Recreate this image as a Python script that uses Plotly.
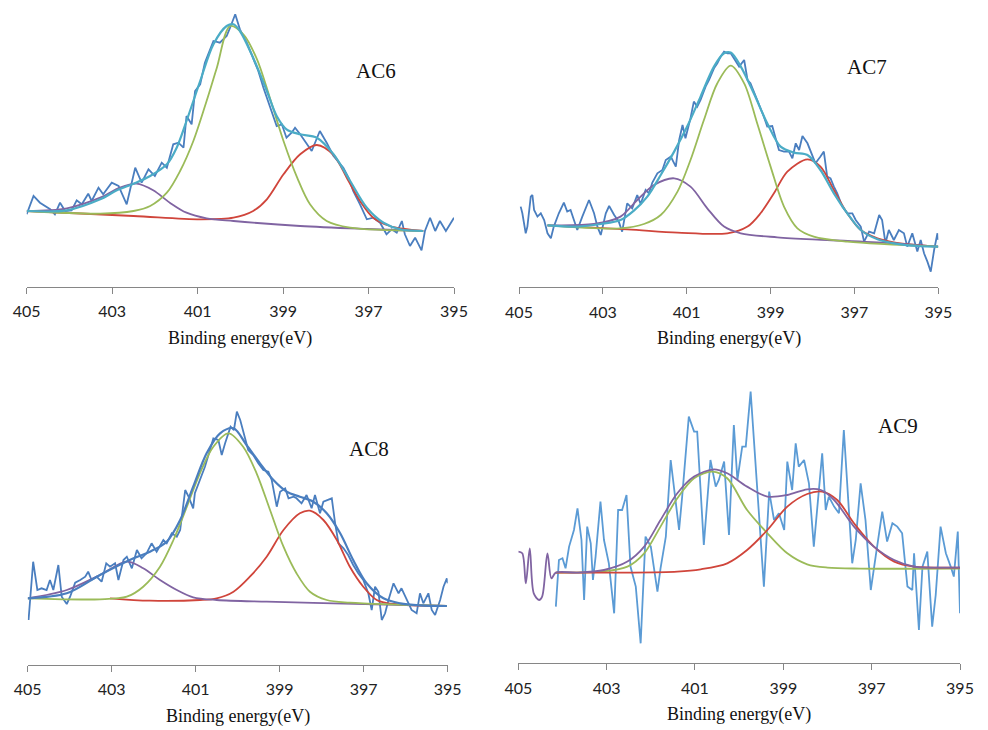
import plotly.graph_objects as go

# ---------------- AC6 ----------------
ac6_raw_ev = [405.00, 404.84, 404.69, 404.45, 404.34, 404.22, 404.10, 403.95, 403.83, 403.71,
              403.56, 403.48, 403.32, 403.21, 403.01, 402.85, 402.66, 402.46, 402.31, 402.15,
              402.00, 401.84, 401.72, 401.57, 401.45, 401.33, 401.26, 401.14, 401.06, 400.94,
              400.83, 400.63, 400.48, 400.32, 400.24, 400.12, 400.01, 399.85, 399.66, 399.58,
              399.46, 399.38, 399.27, 399.15, 399.03, 398.92, 398.80, 398.72, 398.60, 398.49,
              398.33, 398.14, 397.98, 397.82, 397.59, 397.47, 397.36, 397.20, 397.04, 396.89,
              396.73, 396.58, 396.46, 396.34, 396.22, 396.15, 396.03, 395.91, 395.76, 395.68,
              395.56, 395.44, 395.33, 395.19, 395.09, 395.00]
ac6_raw = [72.7, 91.0, 84.3, 77.7, 72.7, 84.3, 76.0, 76.7, 86.7, 82.7,
           93.3, 86.0, 99.3, 92.7, 104.3, 101.0, 82.7, 119.3, 104.3, 117.7,
           111.0, 124.3, 119.3, 142.7, 144.3, 139.3, 171.0, 162.7, 196.0, 202.7,
           224.3, 246.0, 244.3, 251.0, 259.3, 272.7, 257.7, 244.3, 224.3, 216.0,
           199.3, 189.3, 176.0, 161.0, 162.7, 149.3, 154.3, 159.3, 152.7, 146.0,
           136.0, 156.0, 144.3, 131.0, 119.3, 109.3, 96.0, 82.7, 67.7, 69.3,
           64.3, 52.7, 57.7, 54.3, 66.0, 52.7, 41.0, 49.3, 36.7, 56.0,
           69.3, 56.0, 66.0, 56.0, 62.7, 69.3]
ac6_fit_ev = [405.00, 404.06, 403.28, 402.89, 402.50, 402.11, 401.72, 401.49, 401.26, 400.94,
              400.63, 400.32, 400.16, 400.01, 399.70, 399.38, 399.15, 398.92, 398.60, 398.21,
              397.82, 397.43, 397.04, 396.65, 396.26, 395.72]
ac6_fit = [76.0, 76.7, 87.7, 96.7, 103.3, 111.0, 122.7, 139.3, 166.0, 206.0,
           242.7, 261.0, 262.7, 256.0, 229.3, 196.0, 171.0, 157.7, 152.7, 149.3,
           132.7, 106.0, 79.3, 64.3, 57.7, 56.0]
ac6_g_ev = [405.00, 403.28, 402.50, 402.11, 401.72, 401.41, 401.10, 400.79, 400.55, 400.24,
            399.93, 399.61, 399.31, 398.99, 398.67, 398.37, 397.98, 397.43, 395.72]
ac6_g = [76.0, 73.3, 76.0, 81.0, 94.3, 116.0, 146.0, 186.0, 219.3, 261.0,
         252.7, 227.7, 189.3, 146.0, 109.3, 82.7, 66.0, 59.3, 56.0]
ac6_r_ev = [405.00, 402.50, 400.94, 400.16, 399.70, 399.38, 398.99, 398.60, 398.21, 397.82,
            397.51, 397.20, 396.89, 396.50, 395.72]
ac6_r = [76.0, 71.0, 67.7, 69.3, 76.0, 87.7, 112.7, 132.7, 142.0, 132.0,
         109.3, 86.0, 69.3, 61.0, 56.0]
ac6_p_ev = [405.00, 404.06, 403.28, 402.82, 402.43, 402.04, 401.65, 401.26, 400.79, 400.16,
            398.60, 397.04, 395.72]
ac6_p = [76.0, 78.7, 89.3, 99.3, 103.3, 96.7, 84.3, 74.3, 68.7, 66.0,
         61.0, 58.0, 56.0]

# ---------------- AC7 ----------------
ac7_raw_ev = [404.96, 404.92, 404.84, 404.80, 404.72, 404.68, 404.64, 404.56, 404.48, 404.40,
              404.32, 404.24, 404.17, 404.05, 403.93, 403.85, 403.77, 403.69, 403.61, 403.49,
              403.33, 403.21, 403.13, 403.05, 402.93, 402.85, 402.73, 402.62, 402.54, 402.42,
              402.30, 402.18, 402.10, 401.98, 401.90, 401.82, 401.70, 401.58, 401.50, 401.38,
              401.26, 401.18, 401.10, 401.03, 400.91, 400.83, 400.75, 400.67, 400.55, 400.47,
              400.35, 400.27, 400.19, 400.11, 400.03, 399.95, 399.87, 399.75, 399.63, 399.55,
              399.48, 399.40, 399.28, 399.16, 399.08, 398.96, 398.88, 398.80, 398.68, 398.56,
              398.48, 398.40, 398.32, 398.24, 398.12, 398.00, 397.93, 397.81, 397.73, 397.65,
              397.57, 397.49, 397.41, 397.29, 397.17, 397.05, 396.97, 396.85, 396.77, 396.65,
              396.53, 396.41, 396.34, 396.26, 396.18, 396.06, 395.94, 395.82, 395.74, 395.62,
              395.50, 395.42, 395.34, 395.26, 395.18, 395.10, 395.02, 395.00]
ac7_raw = [80.7, 74.0, 54.0, 60.7, 90.7, 92.3, 77.3, 70.7, 74.0, 67.3,
           54.0, 49.0, 60.7, 74.0, 84.7, 75.7, 77.3, 67.3, 57.3, 70.7,
           87.3, 74.0, 60.7, 52.3, 74.0, 81.3, 72.3, 65.7, 55.7, 84.0,
           79.0, 92.3, 83.3, 97.3, 94.0, 104.7, 114.0, 117.3, 127.3, 130.7,
           120.7, 147.3, 162.3, 149.0, 169.0, 185.7, 180.7, 187.3, 200.7, 207.3,
           219.0, 224.0, 230.7, 235.7, 234.0, 234.0, 229.0, 220.7, 227.3, 207.3,
           204.0, 195.7, 184.0, 170.7, 160.7, 161.3, 149.0, 137.3, 135.7, 135.7,
           129.0, 144.0, 137.3, 151.3, 144.0, 130.7, 124.0, 130.7, 135.7, 110.7,
           109.0, 100.7, 94.0, 80.7, 74.0, 74.0, 67.3, 60.7, 45.7, 55.7,
           54.0, 72.3, 67.3, 44.0, 57.3, 47.3, 57.3, 54.0, 40.7, 54.0,
           35.7, 47.3, 34.0, 25.7, 15.7, 37.3, 54.0, 47.3]
ac7_fit_ev = [404.32, 403.61, 403.05, 402.58, 402.26, 401.94, 401.62, 401.30, 400.99, 400.67,
              400.35, 400.11, 399.95, 399.71, 399.40, 399.08, 398.76, 398.44, 398.12, 397.81,
              397.49, 397.17, 396.85, 396.45, 396.06, 395.50, 395.00]
ac7_fit = [62.0, 60.7, 63.3, 67.3, 76.7, 90.7, 112.3, 135.7, 160.7, 190.7,
           220.7, 234.0, 234.7, 220.7, 194.0, 164.0, 140.7, 134.7, 132.3, 117.3,
           94.0, 74.0, 57.3, 48.0, 44.0, 41.3, 40.7]
ac7_g_ev = [404.32, 402.58, 402.02, 401.62, 401.22, 400.91, 400.59, 400.27, 399.95, 399.63,
            399.32, 399.00, 398.68, 398.36, 397.97, 397.17, 395.00]
ac7_g = [62.0, 59.0, 63.3, 72.3, 95.7, 127.3, 167.3, 204.0, 221.7, 204.0,
         164.0, 120.7, 80.7, 59.0, 50.7, 45.7, 40.7]
ac7_r_ev = [404.32, 402.42, 401.22, 400.03, 399.55, 399.24, 398.92, 398.60, 398.12, 397.81,
            397.49, 397.17, 396.85, 396.45, 396.06, 395.00]
ac7_r = [62.0, 58.0, 54.7, 54.0, 60.7, 74.0, 94.0, 115.7, 128.0, 120.7,
         97.3, 74.0, 57.3, 49.0, 45.0, 40.7]
ac7_p_ev = [404.32, 403.21, 402.58, 402.18, 401.78, 401.30, 400.91, 400.51, 400.11, 399.71,
            398.84, 397.65, 396.06, 395.00]
ac7_p = [62.0, 63.3, 70.7, 87.3, 102.3, 109.0, 100.7, 79.0, 60.7, 54.0,
         50.0, 47.3, 44.0, 40.7]

# ---------------- AC8 ----------------
ac8_raw_ev = [404.98, 404.87, 404.77, 404.67, 404.55, 404.47, 404.39, 404.27, 404.19, 404.07,
              403.99, 403.87, 403.75, 403.63, 403.56, 403.48, 403.36, 403.24, 403.13, 403.04,
              402.92, 402.84, 402.72, 402.64, 402.52, 402.40, 402.29, 402.17, 402.05, 401.93,
              401.77, 401.69, 401.57, 401.45, 401.37, 401.25, 401.17, 401.06, 401.02, 400.90,
              400.78, 400.66, 400.58, 400.46, 400.38, 400.30, 400.17, 400.09, 400.02, 399.94,
              399.83, 399.75, 399.63, 399.51, 399.39, 399.27, 399.19, 399.07, 398.99, 398.87,
              398.79, 398.67, 398.60, 398.48, 398.36, 398.24, 398.16, 398.04, 397.96, 397.84,
              397.76, 397.68, 397.60, 397.48, 397.37, 397.25, 397.13, 397.01, 396.89, 396.81,
              396.73, 396.65, 396.57, 396.49, 396.41, 396.29, 396.17, 396.10, 395.98, 395.86,
              395.74, 395.66, 395.58, 395.46, 395.38, 395.30, 395.18, 395.10, 395.02, 395.00]
ac8_raw = [45.0, 103.3, 75.0, 76.7, 75.0, 85.0, 75.0, 100.0, 68.3, 61.0,
           68.3, 82.3, 85.0, 88.3, 93.3, 85.0, 88.3, 83.3, 101.7, 98.3,
           101.7, 85.0, 105.0, 108.3, 96.7, 115.0, 106.7, 111.7, 121.7, 113.3,
           125.0, 121.7, 131.7, 128.3, 135.0, 175.0, 168.3, 156.7, 171.7, 185.0,
           198.3, 215.0, 226.7, 225.0, 210.0, 221.7, 238.3, 235.0, 253.3, 245.0,
           228.3, 215.0, 210.0, 201.7, 195.0, 193.3, 185.0, 158.3, 173.3, 176.7,
           166.7, 168.3, 166.7, 161.7, 170.0, 156.7, 170.0, 151.7, 163.3, 165.0,
           166.7, 141.7, 121.7, 116.7, 110.0, 100.0, 91.7, 85.0, 71.7, 55.0,
           78.3, 73.3, 45.0, 51.7, 65.0, 81.7, 71.7, 76.7, 65.0, 55.0,
           51.7, 71.7, 61.7, 71.7, 55.0, 50.0, 65.0, 78.3, 86.7, 81.7]
ac8_fit_ev = [405.00, 404.07, 403.28, 402.48, 402.09, 401.69, 401.37, 401.06, 400.74, 400.42,
              400.10, 399.79, 399.47, 399.15, 398.83, 398.52, 398.20, 397.88, 397.56, 397.25,
              396.93, 396.53, 396.13, 395.66, 395.02]
ac8_fit = [66.7, 71.7, 90.0, 106.7, 113.3, 123.3, 145.0, 178.3, 211.7, 231.7,
           236.7, 220.0, 201.7, 185.0, 173.3, 168.3, 163.3, 151.7, 131.7, 105.0,
           81.7, 66.7, 61.7, 59.7, 59.0]
ac8_g_ev = [405.00, 403.28, 402.64, 402.25, 401.85, 401.53, 401.21, 400.90, 400.58, 400.22,
            399.87, 399.55, 399.23, 398.91, 398.60, 398.28, 397.88, 397.33, 395.02]
ac8_g = [66.7, 65.7, 68.3, 78.3, 98.3, 125.0, 158.3, 191.7, 218.3, 231.7,
         218.3, 191.7, 155.0, 118.3, 91.7, 73.3, 65.0, 62.3, 59.0]
ac8_r_ev = [403.04, 402.09, 400.90, 400.50, 400.10, 399.71, 399.31, 398.91, 398.52, 398.28,
            397.96, 397.64, 397.33, 397.01, 396.69, 396.29, 395.02]
ac8_r = [66.7, 64.3, 65.0, 66.7, 73.3, 88.3, 108.3, 135.0, 151.7, 154.3,
         145.0, 125.0, 98.3, 78.3, 65.0, 61.0, 59.0]
ac8_p_ev = [405.00, 404.07, 403.28, 402.64, 402.25, 401.85, 401.45, 401.06, 400.50, 399.31,
            397.72, 395.02]
ac8_p = [66.7, 75.0, 90.0, 103.3, 96.7, 85.0, 75.0, 67.7, 65.0, 63.3,
         61.7, 59.0]

# ---------------- AC9 ----------------
ac9_raw_ev = [404.15, 404.08, 404.00, 403.93, 403.85, 403.74, 403.66, 403.57, 403.51, 403.44,
              403.36, 403.31, 403.25, 403.14, 403.06, 402.95, 402.83, 402.74, 402.65, 402.55,
              402.46, 402.34, 402.23, 402.12, 402.00, 401.85, 401.78, 401.66, 401.55, 401.48,
              401.36, 401.29, 401.14, 401.02, 400.95, 400.80, 400.65, 400.53, 400.46, 400.34,
              400.23, 400.12, 400.04, 399.93, 399.85, 399.74, 399.66, 399.55, 399.44, 399.32,
              399.21, 399.10, 398.98, 398.91, 398.80, 398.72, 398.65, 398.53, 398.42, 398.31,
              398.19, 398.12, 398.04, 397.97, 397.85, 397.74, 397.63, 397.55, 397.44, 397.36,
              397.25, 397.14, 397.02, 396.91, 396.76, 396.65, 396.53, 396.42, 396.31, 396.19,
              396.08, 396.04, 395.93, 395.85, 395.74, 395.63, 395.55, 395.44, 395.32, 395.21,
              395.14, 395.05, 395.00]
ac9_raw = [56.7, 103.3, 105.0, 95.0, 116.7, 133.3, 155.0, 123.3, 63.3, 136.7,
           120.0, 83.3, 106.7, 161.7, 123.3, 100.0, 50.0, 153.3, 153.3, 168.3,
           96.7, 76.7, 20.0, 126.7, 116.7, 71.7, 95.0, 126.7, 203.3, 176.7,
           133.3, 166.7, 246.7, 231.7, 231.7, 118.3, 203.3, 176.7, 183.3, 201.7,
           128.3, 238.3, 183.3, 216.7, 216.7, 271.7, 216.7, 150.0, 76.7, 171.7,
           143.3, 150.0, 133.3, 201.7, 173.3, 220.0, 196.7, 203.3, 180.0, 116.7,
           173.3, 210.0, 153.3, 166.7, 156.7, 150.0, 233.3, 173.3, 100.0, 123.3,
           180.0, 143.3, 73.3, 106.7, 151.7, 121.7, 140.0, 136.7, 130.0, 76.7,
           73.3, 110.0, 33.3, 96.7, 111.7, 36.7, 68.3, 136.7, 110.0, 96.7,
           86.7, 131.7, 50.0]
ac9_p_ev = [405.00, 404.91, 404.83, 404.74, 404.65, 404.53, 404.46, 404.34, 404.25, 404.15,
            403.66, 403.06, 402.53, 402.15, 401.78, 401.40, 401.02, 400.57, 400.27, 399.82,
            399.36, 398.91, 398.46, 398.15, 397.85, 397.40, 396.95, 396.49, 396.04, 395.59,
            395.00]
ac9_p = [111.7, 110.0, 80.0, 115.0, 70.0, 63.3, 66.7, 110.0, 85.0, 90.7,
         90.7, 93.3, 101.7, 116.7, 143.3, 170.0, 186.7, 194.0, 190.0, 176.7,
         166.7, 168.3, 174.0, 173.3, 163.3, 136.7, 116.7, 103.3, 96.7, 95.7,
         95.7]
ac9_g_ev = [404.15, 403.06, 402.53, 402.15, 401.78, 401.40, 401.02, 400.61, 400.27, 399.82,
            399.36, 398.91, 398.46, 398.00, 397.25, 395.00]
ac9_g = [90.7, 92.0, 96.7, 110.0, 136.7, 165.0, 185.0, 191.7, 185.0, 153.3,
         130.0, 110.0, 99.0, 95.7, 94.7, 94.7]
ac9_r_ev = [404.15, 402.53, 401.40, 400.87, 400.27, 399.82, 399.36, 398.91, 398.46, 398.12,
            397.78, 397.40, 396.95, 396.49, 396.04, 395.00]
ac9_r = [90.7, 90.7, 91.7, 94.0, 100.0, 113.3, 133.3, 156.7, 169.3, 171.7,
         163.3, 140.0, 116.7, 101.7, 96.7, 95.7]

panel_names = ["AC6", "AC7", "AC8", "AC9"]
x_ticks = [405, 403, 401, 399, 397, 395]

# colours (Office palette)
RAW = "#4A7EBF"
RAW9 = "#5B9BD5"
FIT = "#4BACC6"
GREEN = "#9BBB59"
RED = "#D0453B"
PURPLE = "#8064A2"

W, H = 988, 730

# plot boxes in pixels: left, right, axis-line y, top y
boxes = [
    (26.7, 454.0, 287.0, 5.0),
    (519.0, 938.3, 287.3, 5.0),
    (27.7, 447.7, 665.0, 385.0),
    (518.3, 960.0, 663.3, 385.0),
]

fig = go.Figure()


def add_line(idx, x, y, color, width=1.8, smooth=False):
    ax = "" if idx == 0 else str(idx + 1)
    fig.add_trace(go.Scatter(
        x=x, y=y, mode="lines",
        line=dict(color=color, width=width,
                  shape="spline" if smooth else "linear",
                  smoothing=0.9 if smooth else None),
        xaxis="x" + ax, yaxis="y" + ax, showlegend=False, hoverinfo="skip"))


# AC6
add_line(0, ac6_raw_ev, ac6_raw, RAW)
add_line(0, ac6_r_ev, ac6_r, RED, smooth=True)
add_line(0, ac6_p_ev, ac6_p, PURPLE, smooth=True)
add_line(0, ac6_g_ev, ac6_g, GREEN, smooth=True)
add_line(0, ac6_fit_ev, ac6_fit, FIT, width=2.2, smooth=True)
# AC7
add_line(1, ac7_raw_ev, ac7_raw, RAW)
add_line(1, ac7_r_ev, ac7_r, RED, smooth=True)
add_line(1, ac7_p_ev, ac7_p, PURPLE, smooth=True)
add_line(1, ac7_g_ev, ac7_g, GREEN, smooth=True)
add_line(1, ac7_fit_ev, ac7_fit, FIT, width=2.2, smooth=True)
# AC8
add_line(2, ac8_raw_ev, ac8_raw, RAW)
add_line(2, ac8_r_ev, ac8_r, RED, smooth=True)
add_line(2, ac8_p_ev, ac8_p, PURPLE, smooth=True)
add_line(2, ac8_g_ev, ac8_g, GREEN, smooth=True)
add_line(2, ac8_fit_ev, ac8_fit, RAW, width=2.2, smooth=True)
# AC9
add_line(3, ac9_raw_ev, ac9_raw, RAW9)
add_line(3, ac9_g_ev, ac9_g, GREEN, smooth=True)
add_line(3, ac9_r_ev, ac9_r, RED, smooth=True)
add_line(3, ac9_p_ev, ac9_p, PURPLE, smooth=True)

layout = dict(
    width=W, height=H,
    margin=dict(l=0, r=0, t=0, b=0, autoexpand=False),
    paper_bgcolor="white", plot_bgcolor="white",
    showlegend=False,
)

annotations = []
label_pos = [(376, 71), (867, 67), (369, 449), (898, 426)]
for i, (x0, x1, yb, yt) in enumerate(boxes):
    ax = "" if i == 0 else str(i + 1)
    layout["xaxis" + ax] = dict(
        domain=[x0 / W, x1 / W], range=[405, 395], anchor="y" + ax,
        tickvals=x_ticks, ticktext=[str(t) for t in x_ticks],
        showline=True, linecolor="#868686", linewidth=1,
        ticks="outside", ticklen=6, tickcolor="#868686", tickwidth=1,
        showgrid=False, zeroline=False, automargin=False,
        tickfont=dict(family="Lato, Open Sans, sans-serif", size=16, color="#222222"),
        ticklabelstandoff=4,
    )
    layout["yaxis" + ax] = dict(
        domain=[1 - yb / H, 1 - yt / H], range=[0, yb - yt], anchor="x" + ax,
        visible=False, showgrid=False, zeroline=False, automargin=False,
    )
    annotations.append(dict(
        text="Binding energy(eV)", xref="paper", yref="paper",
        x=(x0 + x1) / 2 / W, y=1 - (yb + 51) / H, xanchor="center", yanchor="middle",
        showarrow=False,
        font=dict(family="Liberation Serif, Times New Roman, serif", size=18, color="#111111"),
    ))
    lx, ly = label_pos[i]
    annotations.append(dict(
        text=panel_names[i], xref="paper", yref="paper",
        x=lx / W, y=1 - ly / H, xanchor="center", yanchor="middle",
        showarrow=False,
        font=dict(family="Liberation Serif, Times New Roman, serif", size=21, color="#111111"),
    ))

layout["annotations"] = annotations
fig.update_layout(**layout)
fig.write_html("out.html")
